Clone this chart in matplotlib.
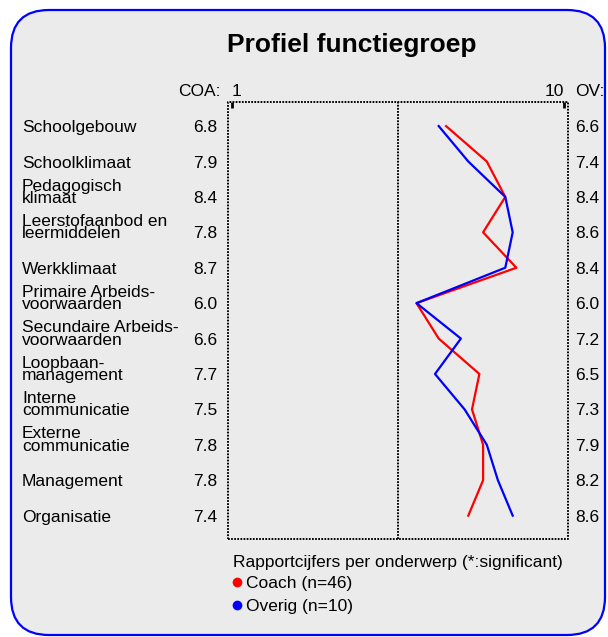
import matplotlib
matplotlib.use("Agg")
import matplotlib.pyplot as plt
from matplotlib.patches import FancyBboxPatch
from matplotlib.transforms import blended_transform_factory

# gegevens
onderwerpen = [
    "Schoolgebouw",
    "Schoolklimaat",
    "Pedagogisch\nklimaat",
    "Leerstofaanbod en\nleermiddelen",
    "Werkklimaat",
    "Primaire Arbeids-\nvoorwaarden",
    "Secundaire Arbeids-\nvoorwaarden",
    "Loopbaan-\nmanagement",
    "Interne\ncommunicatie",
    "Externe\ncommunicatie",
    "Management",
    "Organisatie",
]
coa_scores = [6.8, 7.9, 8.4, 7.8, 8.7, 6.0, 6.6, 7.7, 7.5, 7.8, 7.8, 7.4]
ov_scores = [6.6, 7.4, 8.4, 8.6, 8.4, 6.0, 7.2, 6.5, 7.3, 7.9, 8.2, 8.6]
schaal = [1, 10]
reeksen = ["Coach (n=46)", "Overig (n=10)"]
kleuren = ["#ff0000", "#0000ff"]

plt.rcParams['font.family'] = ['Liberation Sans', 'DejaVu Sans']
FS = 12.5
STIP = dict(color='black', ls=(0, (0.9, 0.7)), lw=1.4, dash_capstyle='butt')

W, H = 608, 637
fig = plt.figure(figsize=(W / 100, H / 100), dpi=100)

# achtergrond met afgeronde rand, in pixelcoordinaten
bg = fig.add_axes([0, 0, 1, 1])
bg.set_xlim(0, W)
bg.set_ylim(H, 0)
bg.axis('off')
bg.add_patch(FancyBboxPatch((11, 10), 594, 625,
                            boxstyle="round,pad=0,rounding_size=38",
                            fc='#ebebeb', ec='#0000ff', lw=1.6))

bg.text(352, 45, "Profiel functiegroep", ha='center', va='center',
        fontsize=19, fontweight='bold')

# grafiek
ax = fig.add_axes([228 / W, 1 - 539 / H, 340 / W, 437 / H])
ax.set_facecolor('none')
rijen = list(range(len(onderwerpen)))
ax.plot(coa_scores, rijen, color=kleuren[0], lw=1.6)
ax.plot(ov_scores, rijen, color=kleuren[1], lw=1.6)
ax.axvline(sum(schaal) / 2, **STIP)
ax.set_xlim(schaal[0] - 0.095, schaal[1] + 0.095)
ax.set_ylim(len(onderwerpen) - 0.34, -0.68)

# gestippeld kader
for s in ax.spines.values():
    s.set_visible(False)
ax.plot([0, 1, 1, 0, 0], [0, 0, 1, 1, 0], transform=ax.transAxes,
        clip_on=False, **STIP)
ax.set_yticks([])
ax.xaxis.tick_top()
ax.set_xticks(schaal)
ax.tick_params(axis='x', direction='in', length=4, width=2, labeltop=False)

# labels per rij
rij_trans = blended_transform_factory(bg.transData, ax.transData)
kop_trans = blended_transform_factory(ax.transData, bg.transData)
off = 0.17
gap = 0.35
for i, (naam, c, o) in enumerate(zip(onderwerpen, coa_scores, ov_scores)):
    regels = naam.split("\n")
    for k, regel in enumerate(reversed(regels)):
        bg.text(22, i + off - k * gap, regel, transform=rij_trans,
                ha='left', va='baseline', fontsize=FS)
    bg.text(217, i + off, f"{c:.1f}", transform=rij_trans,
            ha='right', va='baseline', fontsize=FS)
    bg.text(575, i + off, f"{o:.1f}", transform=rij_trans,
            ha='left', va='baseline', fontsize=FS)

# koppen
bg.text(221, 96, "COA:", ha='right', va='baseline', fontsize=FS)
bg.text(575, 96, "OV:", ha='left', va='baseline', fontsize=FS)
bg.text(schaal[0], 96, str(schaal[0]), transform=kop_trans,
        ha='left', va='baseline', fontsize=FS)
bg.text(schaal[1], 96, str(schaal[1]), transform=kop_trans,
        ha='right', va='baseline', fontsize=FS)

# legenda
bg.text(233, 567, "Rapportcijfers per onderwerp (*:significant)",
        ha='left', va='baseline', fontsize=FS)
for j, (naam, kl) in enumerate(zip(reeksen, kleuren)):
    y = 588 + j * 23
    bg.plot(237, y - 6, 'o', color=kl, ms=7, mec='none')
    bg.text(246, y, naam, ha='left', va='baseline', fontsize=FS)

fig.savefig("out.png", dpi=100)
